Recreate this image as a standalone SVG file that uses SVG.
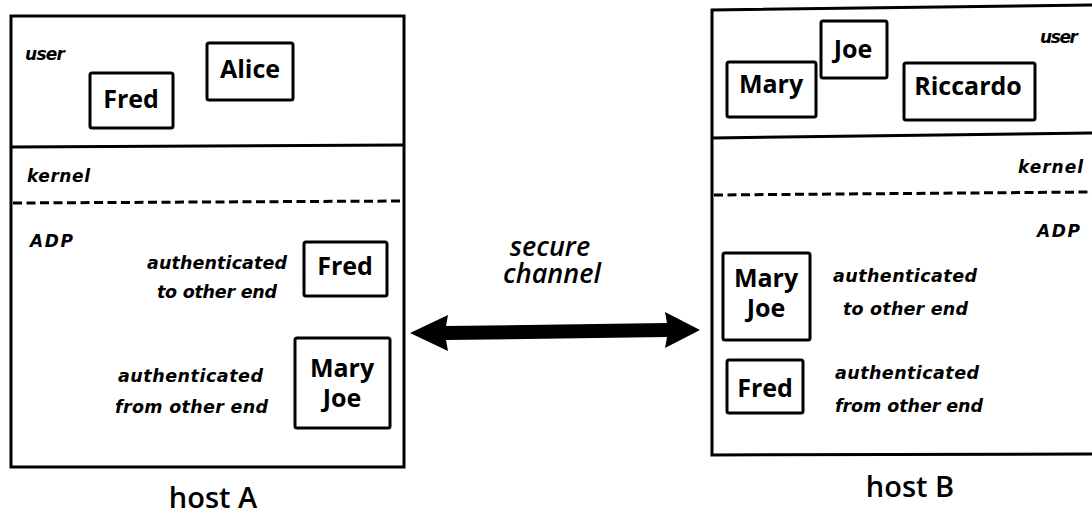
<svg xmlns="http://www.w3.org/2000/svg" width="1092" height="517" viewBox="0 0 1092 517">
  <style>
    .frame { fill: none; stroke: #000; stroke-width: 3; }
    .rule { fill: none; stroke: #000; stroke-width: 3; }
    .dash { fill: none; stroke: #000; stroke-width: 3; stroke-dasharray: 9 4.5; }
    .box { fill: #fff; stroke: #000; stroke-width: 3; }
    .name { font-family: "Open Sans", "Liberation Sans", sans-serif; font-weight: 700; font-size: 25px; fill: #000; text-anchor: middle; }
    .tag { font-family: "DejaVu Sans", "Liberation Sans", sans-serif; font-weight: 700; font-style: italic; font-size: 17px; fill: #000; }
    .note { font-family: "DejaVu Sans", "Liberation Sans", sans-serif; font-weight: 700; font-style: italic; font-size: 17.5px; fill: #000; }
    .host { font-family: "Open Sans", "Liberation Sans", sans-serif; font-weight: 600; font-size: 29px; fill: #000; text-anchor: middle; }
    .chan { font-family: "Open Sans", "Liberation Sans", sans-serif; font-weight: 600; font-style: italic; font-size: 27px; fill: #000; text-anchor: middle; }
  </style>
  <rect width="1092" height="517" fill="#fff"/>

  <!-- host A -->
  <g id="hostA">
    <rect class="frame" x="11" y="16" width="393" height="451"/>
    <line class="rule" x1="11" y1="147" x2="404" y2="145"/>
    <line class="dash" x1="13" y1="203" x2="403" y2="201"/>
    <text class="tag" x="25" y="60" textLength="40">user</text>
    <text class="tag" x="27" y="182" textLength="63">kernel</text>
    <text class="tag" x="30" y="247" textLength="43">ADP</text>
    <text class="note" x="287" y="269" text-anchor="end" textLength="140">authenticated</text>
    <text class="note" x="277" y="298" text-anchor="end" textLength="120">to other end</text>
    <text class="note" x="263" y="382" text-anchor="end" textLength="145">authenticated</text>
    <text class="note" x="268" y="413" text-anchor="end" textLength="153">from other end</text>
    <text class="host" x="213" y="508">host A</text>
  </g>
  <g id="hostA-user-fred">
    <rect class="box" x="90" y="73" width="83" height="55" rx="2"/>
    <text class="name" x="131" y="108">Fred</text>
  </g>
  <g id="hostA-user-alice">
    <rect class="box" x="207" y="43" width="86" height="57" rx="2"/>
    <text class="name" x="250" y="78">Alice</text>
  </g>
  <g id="hostA-adp-fred">
    <rect class="box" x="304" y="242" width="83" height="54" rx="2"/>
    <text class="name" x="345" y="275">Fred</text>
  </g>
  <g id="hostA-adp-maryjoe">
    <rect class="box" x="295" y="338" width="95" height="90" rx="2"/>
    <text class="name"><tspan x="342" y="377">Mary</tspan><tspan x="342" y="407">Joe</tspan></text>
  </g>

  <!-- host B -->
  <g id="hostB">
    <path class="frame" d="M1100 5 L712 10 L712 455 L1100 454"/>
    <line class="rule" x1="712" y1="138" x2="1100" y2="133"/>
    <line class="dash" x1="714" y1="195" x2="1092" y2="192"/>
    <text class="tag" x="1078" y="43" text-anchor="end" textLength="38">user</text>
    <text class="tag" x="1083" y="173" text-anchor="end" textLength="65">kernel</text>
    <text class="tag" x="1080" y="237" text-anchor="end" textLength="43">ADP</text>
    <text class="note" x="833" y="282" textLength="144">authenticated</text>
    <text class="note" x="843" y="315" textLength="125">to other end</text>
    <text class="note" x="835" y="379" textLength="144">authenticated</text>
    <text class="note" x="835" y="412" textLength="148">from other end</text>
    <text class="host" x="910" y="497">host B</text>
  </g>
  <g id="hostB-user-mary">
    <rect class="box" x="727" y="62" width="89" height="55" rx="2"/>
    <text class="name" x="771" y="93">Mary</text>
  </g>
  <g id="hostB-user-joe">
    <rect class="box" x="821" y="21" width="66" height="57" rx="2"/>
    <text class="name" x="853" y="58">Joe</text>
  </g>
  <g id="hostB-user-riccardo">
    <rect class="box" x="904" y="63" width="131" height="57" rx="2"/>
    <text class="name" x="968" y="95">Riccardo</text>
  </g>
  <g id="hostB-adp-maryjoe">
    <rect class="box" x="723" y="253" width="87" height="87" rx="2"/>
    <text class="name"><tspan x="766" y="287">Mary</tspan><tspan x="766" y="317">Joe</tspan></text>
  </g>
  <g id="hostB-adp-fred">
    <rect class="box" x="727" y="360" width="76" height="53" rx="2"/>
    <text class="name" x="765" y="397">Fred</text>
  </g>

  <!-- secure channel between the hosts -->
  <g id="connectors">
    <path d="M410 333 L448 315 L446 326 L667 323 L665 312 L700 330 L665 348 L667 337 L446 340 L448 351 Z" fill="#000"/>
    <text class="chan"><tspan x="550" y="256">secure</tspan><tspan x="552" y="283">channel</tspan></text>
  </g>
</svg>
